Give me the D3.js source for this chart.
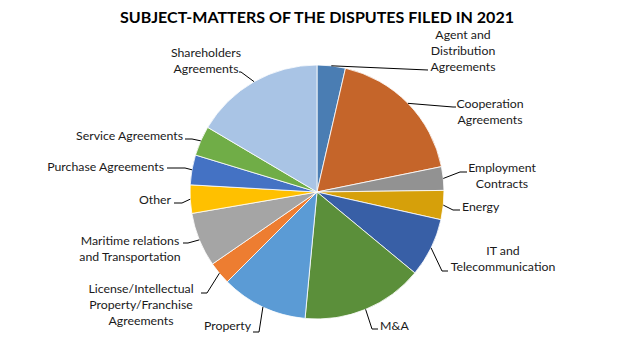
<!DOCTYPE html>
<html>
<head>
<meta charset="utf-8">
<script src="https://cdn.jsdelivr.net/npm/d3@7"></script>
<style>
html,body{margin:0;padding:0;background:#fff;}
svg{display:block;font-family:Lato,"Open Sans",sans-serif;}
</style>
</head>
<body>
<svg id="chart" width="634" height="355"></svg>
<script>
const categories = ["Agent and Distribution Agreements","Cooperation Agreements","Employment Contracts","Energy","IT and Telecommunication","M&A","Property","License/Intellectual Property/Franchise Agreements","Maritime relations and Transportation","Other","Purchase Agreements","Service Agreements","Shareholders Agreements"];
const values = [3.6,18.2,3.0,3.7,7.5,15.5,11.0,2.9,6.9,3.6,3.8,3.8,16.5];
const colors = ["#4a7db3","#c5652a","#929292","#d6a00a","#385fa6","#5b8f3a","#5b9bd5","#ed7d31","#a5a5a5","#ffc000","#4472c4","#70ad47","#a9c4e5"];
const labelLines = [["Agent and","Distribution","Agreements"],["Cooperation","Agreements"],["Employment","Contracts"],["Energy"],["IT and","Telecommunication"],["M&A"],["Property"],["License/Intellectual","Property/Franchise","Agreements"],["Maritime relations","and Transportation"],["Other"],["Purchase Agreements"],["Service Agreements"],["Shareholders","Agreements"]];
const title = "SUBJECT-MATTERS OF THE DISPUTES FILED IN 2021";

// layout of labels (positions only)
const labelLayout = [
  {x:463, y:39, anchor:"middle", leader:[[428,70]]},
  {x:490, y:108, anchor:"middle", leader:[[453,107],[456,107]]},
  {x:502, y:172, anchor:"middle", leader:[[460,172],[467,172]]},
  {x:462, y:211, anchor:"start", leader:[[453,210],[460,210]]},
  {x:503, y:255, anchor:"middle", leader:[[442,271],[448,271]]},
  {x:380, y:330, anchor:"start", leader:[[372,329],[378,329]]},
  {x:251, y:330, anchor:"end", leader:[[259,332],[253,332]]},
  {x:141, y:293, anchor:"middle", leader:[[207,293],[201,293]]},
  {x:130, y:245, anchor:"middle", leader:[[188,243],[183,243]]},
  {x:171, y:204, anchor:"end", leader:[[182,203],[174,203]]},
  {x:164, y:171, anchor:"end", leader:[[185,168],[167,168]]},
  {x:183, y:140, anchor:"end", leader:[[192,139],[185,139]]},
  {x:206, y:57, anchor:"middle", leader:[[241,72],[239,72]]}
];

const svg = d3.select("#chart");
const cx = 317, cy = 192, r = 127;

svg.append("text")
  .attr("x", 317).attr("y", 23)
  .attr("text-anchor","middle")
  .attr("font-size", 16).attr("font-weight","bold")
  .attr("fill","#000")
  .attr("textLength", 394).attr("lengthAdjust","spacingAndGlyphs")
  .text(title);

const pie = d3.pie().sort(null).value(d => d)(values);
const arc = d3.arc().innerRadius(0).outerRadius(r);
const g = svg.append("g").attr("transform", `translate(${cx},${cy})`);
g.selectAll("path").data(pie).enter().append("path")
  .attr("d", arc)
  .attr("fill", (d,i) => colors[i])
  .attr("stroke","#fff").attr("stroke-width",0.8);

const lineGen = d3.line();
pie.forEach((d,i) => {
  const a = (d.startAngle + d.endAngle)/2;
  const sx = cx + Math.sin(a)*r, sy = cy - Math.cos(a)*r;
  const L = labelLayout[i];
  const pts = [[sx,sy]].concat(L.leader);
  svg.append("path").attr("d", lineGen(pts))
    .attr("fill","none").attr("stroke","#000").attr("stroke-width",1);
  const t = svg.append("text")
    .attr("text-anchor", L.anchor)
    .attr("font-size", 12.3).attr("fill","#1a1a1a");
  labelLines[i].forEach((ln,k) => {
    t.append("tspan").attr("x", L.x).attr("y", L.y + k*16).text(ln);
  });
});
</script>
</body>
</html>
